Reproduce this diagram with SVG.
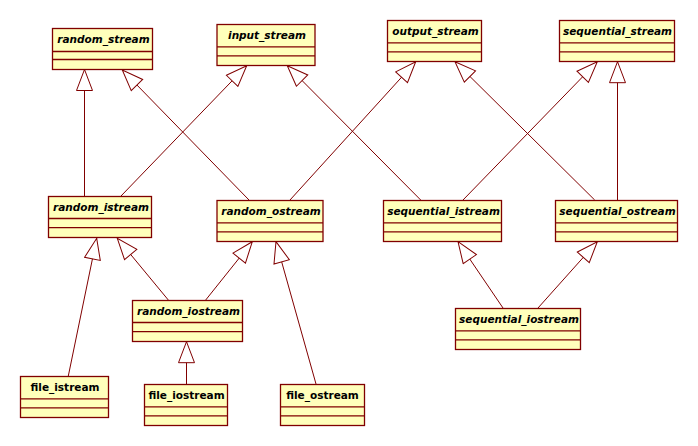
<svg xmlns="http://www.w3.org/2000/svg" width="698" height="446" viewBox="0 0 698 446">
<style>
.box rect{fill:#FFFFBB;stroke:#800000;stroke-width:1.3}
.box line{stroke:#800000;stroke-width:1.3}
.box text{font-family:"DejaVu Sans",Verdana,sans-serif;font-size:10.5px;font-weight:bold;font-style:italic;fill:#000;text-anchor:middle}
.box.concrete text{font-style:normal}
#connectors line{stroke:#800000;stroke-width:1;marker-end:url(#gen)}
</style>
<defs>
<marker id="gen" viewBox="-1 -1 23 18" refX="21" refY="8" markerWidth="23" markerHeight="18" markerUnits="userSpaceOnUse" orient="auto">
<path d="M0,0 L21,8 L0,16 Z" fill="#fff" stroke="#800000" stroke-width="1"/>
</marker>
</defs>
<rect width="698" height="446" fill="#fff"/>
<g id="connectors">
<line x1="84.5" y1="196" x2="84.5" y2="69.5"/>
<line x1="249" y1="200" x2="122.3" y2="70"/>
<line x1="121" y1="196" x2="246.7" y2="65.7"/>
<line x1="420.7" y1="200" x2="287.3" y2="65.7"/>
<line x1="290" y1="200" x2="415.7" y2="61.7"/>
<line x1="594.7" y1="200" x2="455" y2="61.7"/>
<line x1="463" y1="200" x2="597.3" y2="61.7"/>
<line x1="617.5" y1="200" x2="617.5" y2="61.7"/>
<line x1="68.3" y1="376" x2="96.7" y2="238.3"/>
<line x1="168.3" y1="300" x2="117.3" y2="238.3"/>
<line x1="205.7" y1="300" x2="252.3" y2="241.7"/>
<line x1="316" y1="384" x2="276" y2="241.7"/>
<line x1="186.5" y1="384" x2="186.5" y2="341.7"/>
<line x1="503" y1="308" x2="458" y2="241.7"/>
<line x1="538" y1="308" x2="597.3" y2="241.7"/>
</g>
<g id="random_stream" class="box"><rect x="52.5" y="28.5" width="100" height="41"/><line x1="52.5" y1="51.5" x2="152.5" y2="51.5"/><line x1="52.5" y1="59.5" x2="152.5" y2="59.5"/><text x="103.5" y="43">random_stream</text></g>
<g id="input_stream" class="box"><rect x="217" y="24.5" width="98" height="41"/><line x1="217" y1="46.8" x2="315" y2="46.8"/><line x1="217" y1="55.8" x2="315" y2="55.8"/><text x="267" y="39">input_stream</text></g>
<g id="output_stream" class="box"><rect x="387.5" y="20.5" width="94" height="41"/><line x1="387.5" y1="42.8" x2="481.5" y2="42.8"/><line x1="387.5" y1="51.8" x2="481.5" y2="51.8"/><text x="435.5" y="35">output_stream</text></g>
<g id="sequential_stream" class="box"><rect x="559.5" y="20.5" width="115" height="41"/><line x1="559.5" y1="42.8" x2="674.5" y2="42.8"/><line x1="559.5" y1="51.8" x2="674.5" y2="51.8"/><text x="617.5" y="35">sequential_stream</text></g>
<g id="random_istream" class="box"><rect x="48.5" y="196.5" width="103" height="41"/><line x1="48.5" y1="218.5" x2="151.5" y2="218.5"/><line x1="48.5" y1="227.7" x2="151.5" y2="227.7"/><text x="101" y="211">random_istream</text></g>
<g id="random_ostream" class="box"><rect x="217" y="200.5" width="106" height="41"/><line x1="217" y1="222.8" x2="323" y2="222.8"/><line x1="217" y1="231.8" x2="323" y2="231.8"/><text x="271" y="215">random_ostream</text></g>
<g id="random_iostream" class="box"><rect x="132.5" y="300.5" width="110" height="41"/><line x1="132.5" y1="322.5" x2="242.5" y2="322.5"/><line x1="132.5" y1="331.7" x2="242.5" y2="331.7"/><text x="188.5" y="315">random_iostream</text></g>
<g id="sequential_istream" class="box"><rect x="383.5" y="200.5" width="118" height="41"/><line x1="383.5" y1="222.8" x2="501.5" y2="222.8"/><line x1="383.5" y1="231.8" x2="501.5" y2="231.8"/><text x="443.5" y="215">sequential_istream</text></g>
<g id="sequential_ostream" class="box"><rect x="555.5" y="200.5" width="122" height="41"/><line x1="555.5" y1="222.8" x2="677.5" y2="222.8"/><line x1="555.5" y1="231.8" x2="677.5" y2="231.8"/><text x="617.5" y="215">sequential_ostream</text></g>
<g id="sequential_iostream" class="box"><rect x="455.5" y="308.5" width="125" height="41"/><line x1="455.5" y1="330.8" x2="580.5" y2="330.8"/><line x1="455.5" y1="339.8" x2="580.5" y2="339.8"/><text x="519" y="323">sequential_iostream</text></g>
<g id="file_istream" class="box concrete"><rect x="20.5" y="376.5" width="88" height="41"/><line x1="20.5" y1="398.8" x2="108.5" y2="398.8"/><line x1="20.5" y1="407.8" x2="108.5" y2="407.8"/><text x="65" y="391">file_istream</text></g>
<g id="file_iostream" class="box concrete"><rect x="144.5" y="384.5" width="83" height="41"/><line x1="144.5" y1="406.8" x2="227.5" y2="406.8"/><line x1="144.5" y1="415.8" x2="227.5" y2="415.8"/><text x="186.5" y="399">file_iostream</text></g>
<g id="file_ostream" class="box concrete"><rect x="280.5" y="384.5" width="84" height="41"/><line x1="280.5" y1="406.8" x2="364.5" y2="406.8"/><line x1="280.5" y1="415.8" x2="364.5" y2="415.8"/><text x="322.5" y="399">file_ostream</text></g>
</svg>
